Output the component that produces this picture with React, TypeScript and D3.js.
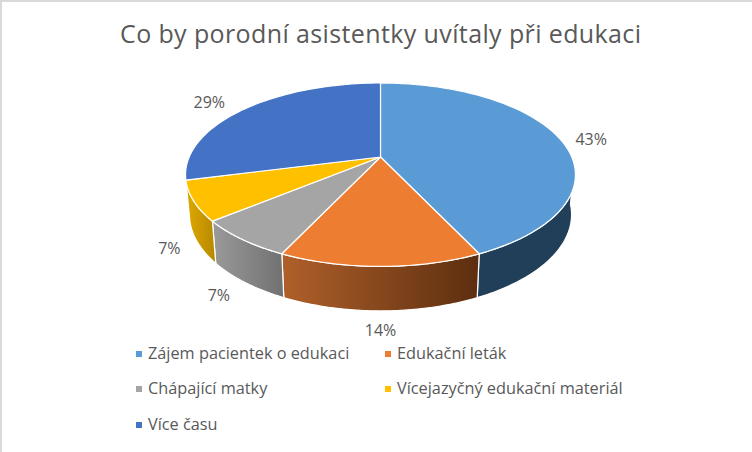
import React from "react";
import * as d3 from "d3";

const title = "Co by porodní asistentky uvítaly při edukaci";
const categories = ["Zájem pacientek o edukaci", "Edukační leták", "Chápající matky", "Vícejazyčný edukační materiál", "Více času"];
const values = [43, 14, 7, 7, 29];
const topColors = ["#5b9bd5", "#ed7d31", "#a5a5a5", "#ffc000", "#4472c4"];
const sideLeft = ["#223f59", "#b0602a", "#9a9a9a", "#e0a900", "#2f5597"];
const sideRight = ["#223f59", "#5c2e0f", "#727272", "#b98c00", "#2f5597"];
const labelNudge: [number, number][] = [[23, 3], [0, 58], [-15, 52], [-14, 46], [-30, -3]];

const cx = 380.5, cy = 157;
const a = 191.3, b = 88.3, k = 0.193;
const depthY = 39, depthS = 0.98, depthSY = 1.05;

const project = (t: number, r = 1): [number, number] => {
  const u = Math.sin(t) * r, v = -Math.cos(t) * r;
  const w = 1 - k * v;
  return [cx + (a * u) / w, cy + (b * v) / w];
};
const lower = (t: number): [number, number] => {
  const [x, y] = project(t);
  return [cx + (x - cx) * depthS, cy + depthY + (y - cy) * depthSY];
};
const line = d3.line<[number, number]>();
const samples = (s: number, e: number) => d3.range(0, 61).map((i) => s + ((e - s) * i) / 60);
const visibleFrom = (95 * Math.PI) / 180;
const visibleTo = (255 * Math.PI) / 180;

export default function App() {
  const arcs = d3.pie<number>().sort(null)(values);
  const legendX = [136, 385];
  const legendY = [353, 388, 424];
  return (
    <svg width={752} height={452} style={{ position: "absolute", left: 0, top: 0, background: "#fff", fontFamily: "'Open Sans', sans-serif" }}>
      <defs>
        {arcs.map((d, i) => (
          <linearGradient key={i} id={`g${i}`} gradientUnits="userSpaceOnUse"
            x1={Math.min(project(Math.max(d.startAngle, visibleFrom))[0], project(Math.min(d.endAngle, visibleTo))[0])}
            x2={Math.max(project(Math.max(d.startAngle, visibleFrom))[0], project(Math.min(d.endAngle, visibleTo))[0])}
            y1={0} y2={0}>
            <stop offset="0" stopColor={sideLeft[i]} />
            <stop offset="1" stopColor={sideRight[i]} />
          </linearGradient>
        ))}
      </defs>
      <rect x={0} y={0} width={752} height={2} fill="#d9d9d9" />
      <rect x={0} y={0} width={2} height={452} fill="#d9d9d9" />
      <text x={380.5} y={43} textAnchor="middle" fontSize={25} fill="#595959" textLength={521} lengthAdjust="spacing">{title}</text>
      {arcs.map((d, i) => {
        const s = Math.max(d.startAngle, visibleFrom), e = Math.min(d.endAngle, visibleTo);
        if (e <= s) return null;
        const ts = samples(s, e);
        const pts = [...ts.map((t) => project(t)), ...ts.slice().reverse().map((t) => lower(t))];
        return <path key={i} d={line(pts) + "Z"} fill={`url(#g${i})`} stroke="#fff" strokeWidth={1.2} strokeLinejoin="round" />;
      })}
      {arcs.map((d, i) => {
        const pts: [number, number][] = [[cx, cy], ...samples(d.startAngle, d.endAngle).map((t) => project(t))];
        return <path key={i} d={line(pts) + "Z"} fill={topColors[i]} stroke="#fff" strokeWidth={1.2} strokeLinejoin="round" />;
      })}
      {arcs.map((d, i) => {
        const [x, y] = project((d.startAngle + d.endAngle) / 2, 1.05);
        const [dx, dy] = labelNudge[i];
        return (
          <text key={i} x={x + dx} y={y + dy} textAnchor="middle" dominantBaseline="middle" fontSize={16} fill="#595959">
            {d3.format(".0%")(values[i] / d3.sum(values))}
          </text>
        );
      })}
      {categories.map((c, i) => {
        const x = legendX[i % 2], y = legendY[Math.floor(i / 2)];
        return (
          <g key={c}>
            <rect x={x} y={y - 2} width={6} height={6} fill={topColors[i]} />
            <text x={x + 12} y={y + 6} fontSize={16.3} fill="#595959">{c}</text>
          </g>
        );
      })}
    </svg>
  );
}
